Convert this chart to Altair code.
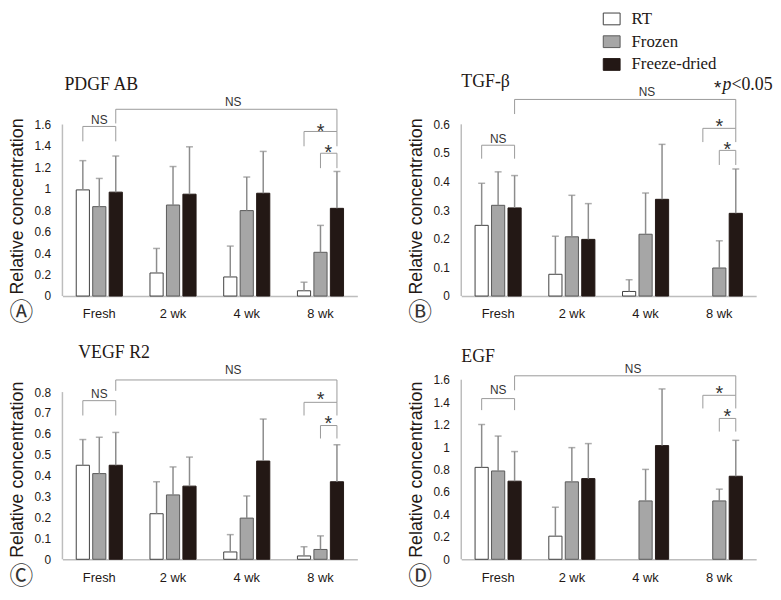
import altair as alt
import pandas as pd

weeks = ["Fresh", "2 wk", "4 wk", "8 wk"]
groups = ["RT", "Frozen", "Freeze-dried"]
panel_titles = ["PDGF AB", "TGF-β", "VEGF R2", "EGF"]
panel_letters = ["Ⓐ", "Ⓑ", "Ⓒ", "Ⓓ"]

# mean values (per week) and upper end of the error bar
pdgf_rt = [0.99, 0.215, 0.178, 0.049]
pdgf_rt_up = [1.263, 0.444, 0.466, 0.129]
pdgf_frozen = [0.834, 0.849, 0.797, 0.408]
pdgf_frozen_up = [1.097, 1.208, 1.110, 0.659]
pdgf_fd = [0.969, 0.950, 0.959, 0.818]
pdgf_fd_up = [1.306, 1.392, 1.349, 1.162]

tgf_rt = [0.247, 0.076, 0.016, None]
tgf_rt_up = [0.394, 0.209, 0.057, None]
tgf_frozen = [0.317, 0.207, 0.216, 0.098]
tgf_frozen_up = [0.434, 0.352, 0.360, 0.193]
tgf_fd = [0.308, 0.198, 0.338, 0.289]
tgf_fd_up = [0.421, 0.323, 0.530, 0.444]

vegf_rt = [0.450, 0.218, 0.035, 0.016]
vegf_rt_up = [0.573, 0.371, 0.118, 0.060]
vegf_frozen = [0.410, 0.308, 0.197, 0.047]
vegf_frozen_up = [0.584, 0.442, 0.303, 0.112]
vegf_fd = [0.450, 0.350, 0.470, 0.371]
vegf_fd_up = [0.607, 0.489, 0.671, 0.548]

egf_rt = [0.819, 0.206, None, None]
egf_rt_up = [1.201, 0.464, None, None]
egf_frozen = [0.787, 0.690, 0.520, 0.520]
egf_frozen_up = [1.098, 0.995, 0.801, 0.625]
egf_fd = [0.696, 0.719, 1.013, 0.740]
egf_fd_up = [0.960, 1.031, 1.518, 1.060]

tick_values = [
    [0, 0.2, 0.4, 0.6, 0.8, 1, 1.2, 1.4, 1.6],
    [0, 0.1, 0.2, 0.3, 0.4, 0.5, 0.6],
    [0, 0.1, 0.2, 0.3, 0.4, 0.5, 0.6, 0.7, 0.8],
    [0, 0.2, 0.4, 0.6, 0.8, 1, 1.2, 1.4, 1.6],
]
y_max = [1.994, 0.747, 0.966, 1.799]
panel_heights = [216, 216, 204, 204]

# significance brackets: (left week, left group, right week, right group)
bracket_names = ["long", "ns", "s1", "s2"]
bracket_ends = [
    ("Fresh", "Freeze-dried", "8 wk", "Freeze-dried"),
    ("Fresh", "RT", "Fresh", "Freeze-dried"),
    ("8 wk", "RT", "8 wk", "Freeze-dried"),
    ("8 wk", "Frozen", "8 wk", "Freeze-dried"),
]
# per panel: (top, left foot, right foot) for long, ns, s1, s2
bracket_levels = [
    [(1.742, 1.61, 1.535), (1.582, 1.443, 1.443), (1.535, 1.397, 1.397), (1.332, 1.193, 1.193)],
    [(0.687, 0.636, 0.586), (0.527, 0.48, 0.48), (0.586, 0.538, 0.538), (0.509, 0.458, 0.458)],
    [(0.858, 0.806, 0.751), (0.759, 0.688, 0.688), (0.751, 0.688, 0.688), (0.640, 0.578, 0.578)],
    [(1.635, 1.506, 1.461), (1.432, 1.329, 1.329), (1.461, 1.344, 1.344), (1.255, 1.138, 1.138)],
]
# label heights: long NS, small NS, star 1, star 2
label_levels = [
    [1.813, 1.644, 1.58, 1.378],
    [0.714, 0.549, 0.607, 0.529],
    [0.906, 0.790, 0.786, 0.669],
    [1.697, 1.505, 1.514, 1.315],
]
long_ns_dx = [3, 18, 3, 4]
title_dx = [2, 0, 16, 0]
title_dy = [26, 29, 19, 23]

series = [
    (pdgf_rt, pdgf_rt_up, pdgf_frozen, pdgf_frozen_up, pdgf_fd, pdgf_fd_up),
    (tgf_rt, tgf_rt_up, tgf_frozen, tgf_frozen_up, tgf_fd, tgf_fd_up),
    (vegf_rt, vegf_rt_up, vegf_frozen, vegf_frozen_up, vegf_fd, vegf_fd_up),
    (egf_rt, egf_rt_up, egf_frozen, egf_frozen_up, egf_fd, egf_fd_up),
]

fill_colors = ["#ffffff", "#a6a6a6", "#231815"]
stroke_colors = ["#404040", "#5a5a5a", "#231815"]
TEXT = "#231815"
AXIS_GRAY = "#bdbdbd"
ERR_GRAY = "#8c8c8c"
BR_GRAY = "#9a9a9a"

legend = alt.Legend(
    title=None, orient="none", legendX=546, legendY=-73,
    symbolType="M-1,-0.7H1V0.7H-1Z", symbolSize=289, symbolStrokeWidth=1,
    labelFont="Liberation Serif", labelFontSize=17, labelColor=TEXT,
    labelOffset=11, rowPadding=6, padding=0, labelLimit=300,
)


def make_panel(i):
    rt, rt_up, fr, fr_up, fd, fd_up = series[i]
    rows = []
    for g, vals, ups in zip(groups, [rt, fr, fd], [rt_up, fr_up, fd_up]):
        for w, v, u in zip(weeks, vals, ups):
            if v is not None:
                rows.append({"week": w, "group": g, "value": v, "upper": u})
    bars_df = pd.DataFrame(rows)

    br_rows = []
    for name, (lw, lg, rw, rg), (top, lf, rf) in zip(bracket_names, bracket_ends, bracket_levels[i]):
        br_rows += [
            {"bracket": name, "order": 0, "week": lw, "group": lg, "y": lf},
            {"bracket": name, "order": 1, "week": lw, "group": lg, "y": top},
            {"bracket": name, "order": 2, "week": rw, "group": rg, "y": top},
            {"bracket": name, "order": 3, "week": rw, "group": rg, "y": rf},
        ]
    br_df = pd.DataFrame(br_rows)
    lv = label_levels[i]
    long_df = pd.DataFrame([{"week": "4 wk", "group": "RT", "y": lv[0], "label": "NS"}])
    ns_df = pd.DataFrame([{"week": "Fresh", "group": "Frozen", "y": lv[1], "label": "NS"}])
    s1_df = pd.DataFrame([{"week": "8 wk", "group": "Frozen", "y": lv[2], "label": "*"}])
    s2_df = pd.DataFrame([{"week": "8 wk", "group": "Frozen", "y": lv[3], "label": "*"}])
    yaxis_df = pd.DataFrame([{"y0": 0, "y1": tick_values[i][-1]}])

    H = panel_heights[i]
    yscale = alt.Scale(domain=[0, y_max[i]], nice=False, zero=True)
    yaxis = alt.Axis(
        values=tick_values[i], format="~g", title="Relative concentration",
        domain=False, ticks=False, grid=False,
        labelFont="Liberation Sans", labelFontSize=12, labelColor=TEXT, labelPadding=12,
        titleFont="Liberation Sans", titleFontSize=18, titleFontWeight="normal",
        titleColor=TEXT, titleAngle=270, titleAlign="left", titleBaseline="alphabetic",
        titleX=-40, titleY=H - 2,
    )
    xaxis = alt.Axis(
        title=panel_letters[i], labelAngle=0, ticks=False, grid=False,
        domainColor=AXIS_GRAY, domainWidth=1.5,
        labelFont="Liberation Sans", labelFontSize=13, labelColor=TEXT, labelPadding=12,
        titleFont="Noto Sans CJK JP", titleFontSize=24, titleFontWeight="normal",
        titleColor="#333333", titleX=-42, titleY=17, titleAlign="center", titleBaseline="middle",
    )
    X = alt.X("week:N", sort=weeks, axis=xaxis,
              scale=alt.Scale(domain=weeks, paddingInner=0.33, paddingOuter=0.165))
    XO = alt.XOffset("group:N", sort=groups,
                     scale=alt.Scale(domain=groups, paddingInner=0.2, paddingOuter=0.1))

    def Y(field):
        return alt.Y(field, scale=yscale, axis=yaxis)

    axis_line = alt.Chart(yaxis_df).mark_rule(color=AXIS_GRAY, strokeWidth=1.5).encode(
        x=alt.value(0), y=Y("y0:Q"), y2="y1:Q")
    bars = alt.Chart(bars_df).mark_bar(strokeWidth=1).encode(
        x=X, xOffset=XO, y=Y("value:Q"),
        fill=alt.Fill("group:N", sort=groups, scale=alt.Scale(domain=groups, range=fill_colors), legend=legend),
        stroke=alt.Stroke("group:N", sort=groups, scale=alt.Scale(domain=groups, range=stroke_colors), legend=legend),
    )
    err = alt.Chart(bars_df).mark_rule(color=ERR_GRAY, strokeWidth=1.5).encode(
        x=X, xOffset=XO, y=Y("value:Q"), y2="upper:Q")
    caps = alt.Chart(bars_df).mark_tick(color=ERR_GRAY, thickness=1.5, size=7, orient="horizontal").encode(
        x=X, xOffset=XO, y=Y("upper:Q"))
    brackets = alt.Chart(br_df).mark_line(color=BR_GRAY, strokeWidth=1).encode(
        x=X, xOffset=XO, y=Y("y:Q"), detail="bracket:N", order="order:Q")
    ns_style = dict(font="Liberation Sans", fontSize=12, color="#333333", baseline="middle")
    star_style = dict(font="Liberation Sans", fontSize=20, color="#333333", baseline="alphabetic", dy=11)
    long_txt = alt.Chart(long_df).mark_text(dx=long_ns_dx[i], **ns_style).encode(
        x=X, xOffset=XO, y=Y("y:Q"), text="label:N")
    ns_txt = alt.Chart(ns_df).mark_text(**ns_style).encode(
        x=X, xOffset=XO, y=Y("y:Q"), text="label:N")
    s1_txt = alt.Chart(s1_df).mark_text(**star_style).encode(
        x=X, xOffset=XO, y=Y("y:Q"), text="label:N")
    s2_txt = alt.Chart(s2_df).mark_text(dx=8, **star_style).encode(
        x=X, xOffset=XO, y=Y("y:Q"), text="label:N")

    layers = [axis_line, bars, err, caps, brackets, long_txt, ns_txt, s1_txt, s2_txt]

    if i == 1:
        note = pd.DataFrame([{"a": "*", "b": "p", "c": "<0.05"}])
        layers.append(alt.Chart(note).mark_text(font="Liberation Sans", fontSize=19, color=TEXT,
                                                align="center", baseline="alphabetic").encode(
            x=alt.value(259), y=alt.value(12), text="a:N"))
        layers.append(alt.Chart(note).mark_text(font="Liberation Serif", fontSize=18, fontStyle="italic",
                                                color=TEXT, align="left", baseline="alphabetic").encode(
            x=alt.value(264), y=alt.value(8), text="b:N"))
        layers.append(alt.Chart(note).mark_text(font="Liberation Serif", fontSize=18, color=TEXT,
                                                align="left", baseline="alphabetic").encode(
            x=alt.value(273), y=alt.value(8), text="c:N"))

    return alt.layer(*layers).properties(
        width=298, height=H,
        title=alt.TitleParams(
            text=panel_titles[i], anchor="start", frame="group", offset=0,
            dx=title_dx[i], dy=title_dy[i], baseline="alphabetic",
            font="Liberation Serif", fontSize=18, fontWeight="normal", color=TEXT,
        ),
    )


chart = alt.concat(
    *[make_panel(i) for i in range(4)], columns=2,
    spacing={"row": 62, "column": 105}, bounds="flush",
).resolve_scale(
    y="independent", x="independent", fill="shared", stroke="shared"
).properties(
    padding={"left": 0, "top": -1, "right": 0, "bottom": 0}, background="white"
).configure_view(stroke=None)

chart.save("out.html", embed_options={"renderer": "svg", "actions": False})
